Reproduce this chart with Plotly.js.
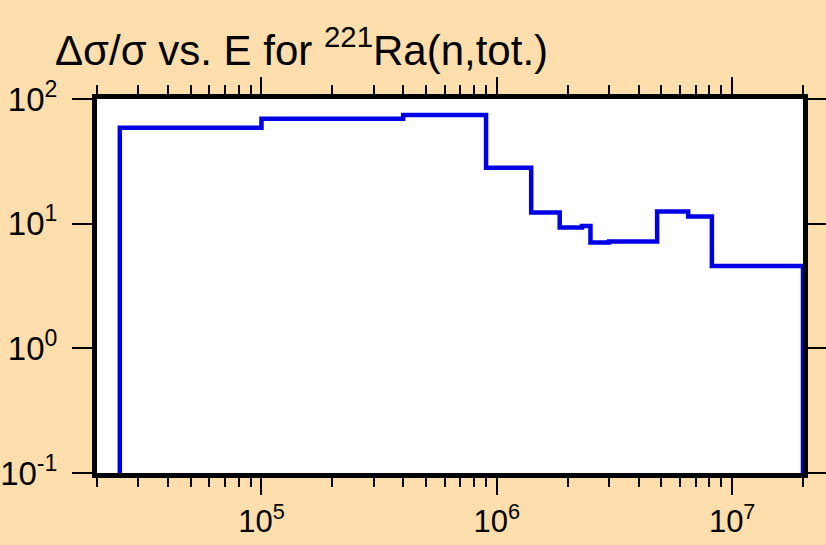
<!DOCTYPE html>
<html>
<head>
<meta charset="utf-8">
<script src="https://cdn.plot.ly/plotly-3.0.1.min.js"></script>
<style>
html,body{margin:0;padding:0;background:#FFDEAD;}
#chart{width:826px;height:545px;}
</style>
</head>
<body>
<div id="chart"></div>
<script>
// Group boundaries (eV) and relative uncertainty (%) as step histogram
const energy = [2.5e4, 2.5e4, 1e5, 4e5, 9e5, 1.4e6, 1.85e6, 2.3e6, 2.5e6, 3e6, 4.8e6, 6.5e6, 8.2e6, 2e7, 2e7];
const relUnc = [0.1, 58.8, 69.4, 74.4, 28.1, 12.3, 9.3, 9.6, 7.05, 7.18, 12.5, 11.4, 4.57, 4.57, 0.1];
const titleText = "Δσ/σ vs. E for <sup>221</sup>Ra(n,tot.)";
const xTickVals = [1e5, 1e6, 1e7];
const xTickText = ["10<sup>5</sup>", "10<sup>6</sup>", "10<sup>7</sup>"];
const yTickVals = [0.1, 1, 10, 100];
const yTickText = ["10<sup>-1</sup>", "10<sup>0</sup>", "10<sup>1</sup>", "10<sup>2</sup>"];

const trace = {
  x: energy,
  y: relUnc,
  type: 'scatter',
  mode: 'lines',
  line: {shape: 'hv', color: '#0000E6', width: 4.5},
  hoverinfo: 'x+y'
};

const fontFam = 'Liberation Sans, Arial, sans-serif';

const layout = {
  width: 826,
  height: 545,
  paper_bgcolor: '#FFDEAD',
  plot_bgcolor: '#FFFFFF',
  margin: {l: 97, r: 23, t: 99, b: 72},
  showlegend: false,
  title: {
    text: titleText,
    x: 55/826, xanchor: 'left', xref: 'container',
    y: 1 - 50/545, yanchor: 'middle', yref: 'container',
    font: {family: fontFam, size: 42, color: '#000'}
  },
  xaxis: {
    type: 'log',
    range: [Math.log10(2e4), Math.log10(2e7)],
    tickmode: 'array',
    tickvals: xTickVals,
    ticktext: xTickText,
    showgrid: false,
    zeroline: false,
    showline: true, linecolor: '#000', linewidth: 5,
    mirror: 'allticks',
    ticks: 'outside', ticklen: 17, tickwidth: 2, tickcolor: '#000',
    minor: {ticks: 'outside', ticklen: 9, tickwidth: 2, tickcolor: '#000', dtick: 'D1', showgrid: false},
    tickfont: {family: fontFam, size: 31, color: '#000'}
  },
  yaxis: {
    type: 'log',
    range: [-1, 2],
    tickmode: 'array',
    tickvals: yTickVals,
    ticktext: yTickText,
    showgrid: false,
    zeroline: false,
    showline: true, linecolor: '#000', linewidth: 5,
    mirror: 'allticks',
    ticks: 'outside', ticklen: 20, tickwidth: 2, tickcolor: '#000',
    ticklabelstandoff: 8,
    tickfont: {family: fontFam, size: 33, color: '#000'}
  }
};

Plotly.newPlot('chart', [trace], layout, {displayModeBar: false, staticPlot: true});
</script>
</body>
</html>
